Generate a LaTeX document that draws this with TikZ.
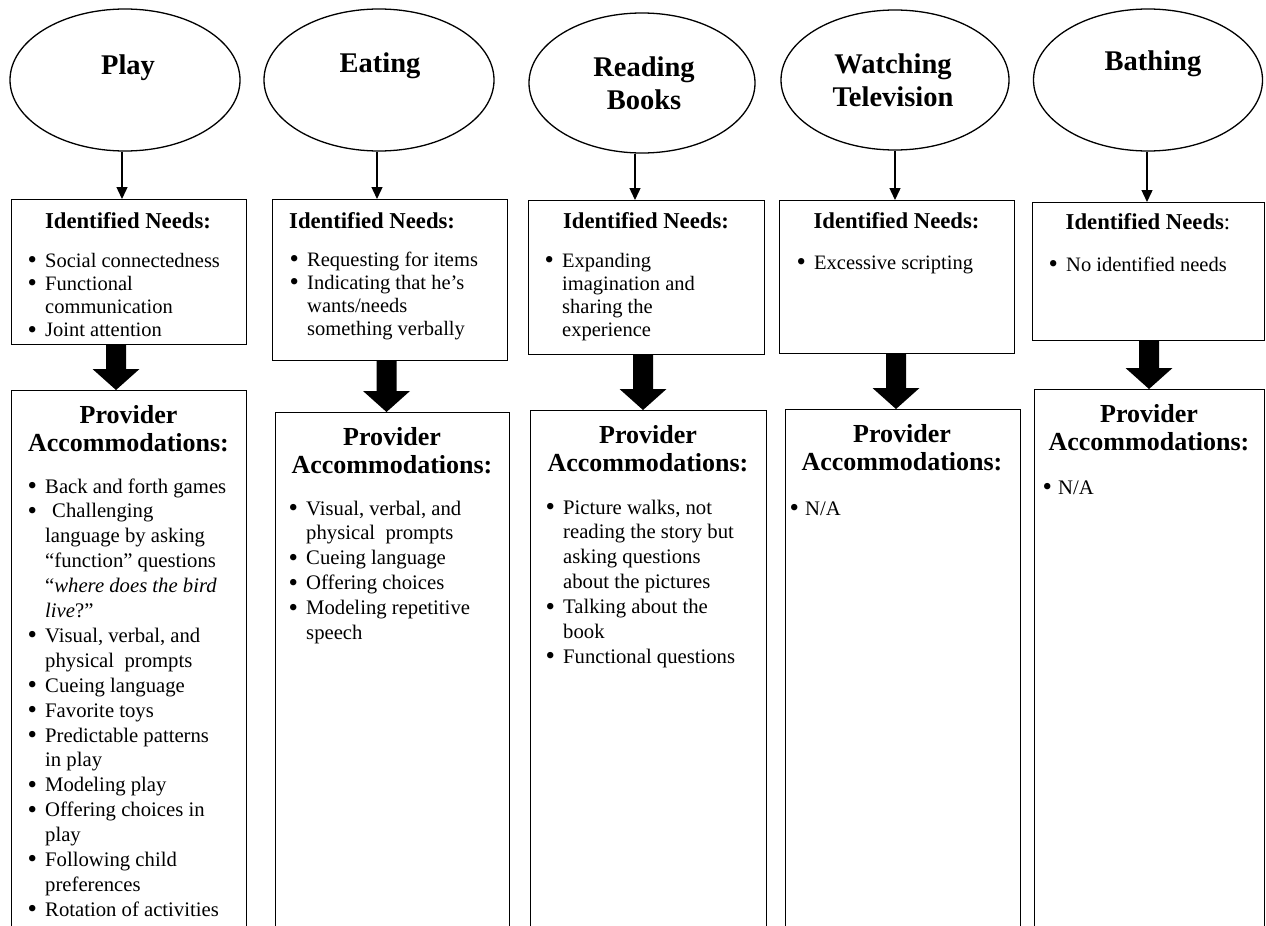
\documentclass[tikz,border=0pt]{standalone}
\usepackage{fontspec}
\setmainfont{Liberation Serif}
\usetikzlibrary{shapes.geometric,arrows.meta,calc}

% bullet lists with hanging indent; the baseline of the block is that of its first line
\newlength\bulind
\setlength\bulind{17.5pt}
\newcommand\blist[1]{\vtop{\hsize=215pt\raggedright\let\\\newline\parindent=0pt\parskip=0pt\relax#1\par}}
\newcommand\bitem{\par\hangindent=\bulind\hangafter=1\noindent\makebox[\bulind][l]{\raisebox{-0.07em}[0pt][0pt]{\scalebox{1.3}{\textbullet}}}}
% centred multi-line heading whose baseline is that of its first line
\newcommand\twoline[2]{\vtop{\halign{\hfil##\hfil\cr#1\cr#2\cr}}}

% thick block arrow from the bottom of one box to the top of the next
\newcommand\bigarrow[4]{%
  \coordinate (#1t) at (#4,0 |- #2.south);
  \coordinate (#1h) at (#4,0 |- #3.north);
  \fill[blockarr] ($(#1t)+(-10,0)$) -- ($(#1t)+(10,0)$) -- ($(#1h)+(10,-21)$)
    -- ($(#1h)+(23.5,-21)$) -- (#1h) -- ($(#1h)+(-23.5,-21)$) -- ($(#1h)+(-10,-21)$) -- cycle;}

\tikzset{
  oval/.style={draw, ellipse, line width=1.3pt, inner sep=0pt},
  box/.style={draw, rectangle, line width=1.2pt, inner sep=0pt, anchor=north west},
  title/.style={font=\fontsize{28.5}{33}\selectfont\bfseries, inner sep=0pt, anchor=base},
  needhead/.style={font=\fontsize{22.7}{26}\selectfont\bfseries, inner sep=0pt, anchor=base},
  provhead/.style={font=\fontsize{26}{28.6}\selectfont\bfseries, inner sep=0pt, anchor=base},
  needlist/.style={font=\fontsize{20.5}{23.3}\selectfont, inner sep=0pt, anchor=base west},
  provlist/.style={font=\fontsize{20.7}{24.9}\selectfont, inner sep=0pt, anchor=base west},
  thinarr/.style={line width=1.4pt, -{Triangle[width=11pt,length=12pt]}},
  blockarr/.style={fill=black},
}

\begin{document}
\begin{tikzpicture}[x=1pt, y=-1pt]
\useasboundingbox (0,0) rectangle (1266,926);
\fill[white] (0,0) rectangle (1266,926);
\clip (0,0) rectangle (1266,926);

% activities
\node[oval, minimum width=230pt, minimum height=142pt] (e1) at (125,80) {};
\node[oval, minimum width=230pt, minimum height=142pt] (e2) at (379,80) {};
\node[oval, minimum width=226pt, minimum height=140pt] (e3) at (642,83) {};
\node[oval, minimum width=228pt, minimum height=140pt] (e4) at (895,80) {};
\node[oval, minimum width=229pt, minimum height=142pt] (e5) at (1148,80) {};

\node[title] (t1) at (128,74) {Play};
\node[title] (t2) at (380,72) {Eating};
\node[title] (t3) at (644,76) {\twoline{Reading}{Books}};
\node[title] (t4) at (893,73) {\twoline{Watching}{Television}};
\node[title] (t5) at (1153,70) {Bathing};

% identified needs
\node[box, minimum width=235pt, minimum height=145pt] (n1) at (11,199) {};
\node[box, minimum width=235pt, minimum height=161pt] (n2) at (272,199) {};
\node[box, minimum width=236pt, minimum height=154pt] (n3) at (528,200) {};
\node[box, minimum width=235pt, minimum height=153pt] (n4) at (779,200) {};
\node[box, minimum width=232pt, minimum height=138pt] (n5) at (1032,202) {};

\node[needhead] (h1) at (128,228) {Identified Needs:};
\node[needhead, anchor=base west] (h2) at (289,228) {Identified Needs:};
\node[needhead] (h3) at (646,228) {Identified Needs:};
\node[needhead] (h4) at (896.5,228) {Identified Needs:};
\node[needhead] (h5) at (1148,229) {Identified Needs\mdseries:};

\node[needlist] (l1) at (27.5,267) {\blist{\bitem Social connectedness
  \bitem Functional\\communication
  \bitem Joint attention}};
\node[needlist] (l2) at (289.5,266) {\blist{\bitem Requesting for items
  \bitem Indicating that he’s\\wants/needs\\something verbally}};
\node[needlist] (l3) at (544.5,267) {\blist{\bitem Expanding\\imagination and\\sharing the\\experience}};
\node[needlist] (l4) at (796.5,269) {\blist{\bitem Excessive scripting}};
\node[needlist] (l5) at (1048.5,271) {\blist{\bitem No identified needs}};

% provider accommodations
\node[box, minimum width=235pt, minimum height=560pt] (p1) at (11,390) {};
\node[box, minimum width=234pt, minimum height=540pt] (p2) at (275,412) {};
\node[box, minimum width=236pt, minimum height=540pt] (p3) at (530,410) {};
\node[box, minimum width=235pt, minimum height=540pt] (p4) at (785,409) {};
\node[box, minimum width=230pt, minimum height=560pt] (p5) at (1034,389) {};

\node[provhead] (ph1) at (128.5,423) {\twoline{Provider}{Accommodations:}};
\node[provhead] (ph2) at (392,445) {\twoline{Provider}{Accommodations:}};
\node[provhead] (ph3) at (648,443) {\twoline{Provider}{Accommodations:}};
\node[provhead] (ph4) at (902,442) {\twoline{Provider}{Accommodations:}};
\node[provhead] (ph5) at (1149,422) {\twoline{Provider}{Accommodations:}};

\node[provlist] (m1) at (27.5,493) {\blist{\bitem Back and forth games
  \bitem \hspace*{7pt}Challenging\\language by asking\\“function” questions\\“\textit{where does the bird}\\\textit{live}?”
  \bitem Visual, verbal, and\\physical\ \ prompts
  \bitem Cueing language
  \bitem Favorite toys
  \bitem Predictable patterns\\in play
  \bitem Modeling play
  \bitem Offering choices in\\play
  \bitem Following child\\preferences
  \bitem Rotation of activities}};
\node[provlist] (m2) at (288.5,515) {\blist{\bitem Visual, verbal, and\\physical\ \ prompts
  \bitem Cueing language
  \bitem Offering choices
  \bitem Modeling repetitive\\speech}};
\node[provlist] (m3) at (545.5,514) {\blist{\bitem Picture walks, not\\reading the story but\\asking questions\\about the pictures
  \bitem Talking about the\\book
  \bitem Functional questions}};
\node[provlist] (m4) at (789.5,515) {\blist{\bulind=15.5pt\bitem N/A}};
\node[provlist] (m5) at (1042.5,494) {\blist{\bulind=15.5pt\bitem N/A}};

% connectors
\draw[thinarr] ([xshift=-3pt]e1.south) -- ([xshift=-3pt]e1.south |- n1.north);
\draw[thinarr] ([xshift=-2pt]e2.south) -- ([xshift=-2pt]e2.south |- n2.north);
\draw[thinarr] ([xshift=-7pt]e3.south) -- ([xshift=-7pt]e3.south |- n3.north);
\draw[thinarr] (e4.south) -- (e4.south |- n4.north);
\draw[thinarr] ([xshift=-1pt]e5.south) -- ([xshift=-1pt]e5.south |- n5.north);

\bigarrow{a1}{n1}{p1}{116}
\bigarrow{a2}{n2}{p2}{386.5}
\bigarrow{a3}{n3}{p3}{643}
\bigarrow{a4}{n4}{p4}{896}
\bigarrow{a5}{n5}{p5}{1149}
\end{tikzpicture}
\end{document}
